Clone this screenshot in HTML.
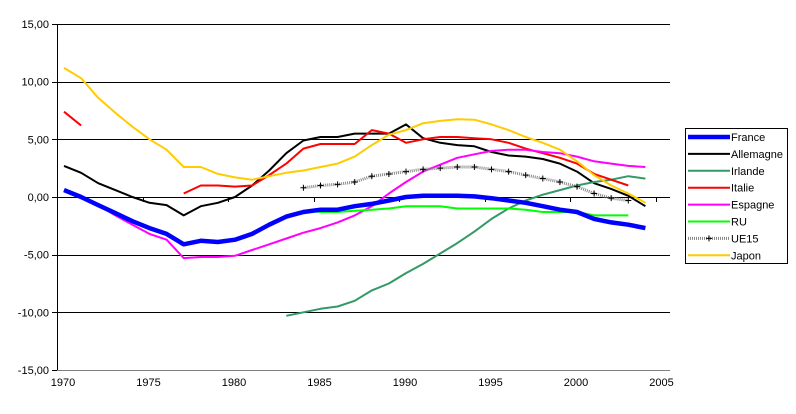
<!DOCTYPE html>
<html><head><meta charset="utf-8"><style>
body{margin:0;background:#fff;font-family:"Liberation Sans",Arial,sans-serif;}
svg text{font-family:"Liberation Sans",Arial,sans-serif;font-size:11px;fill:#000;}
</style></head><body>
<svg id="chart" width="796" height="409"></svg>
<script>
const years = [];
for (let y = 1970; y <= 2004; y++) years.push(y);
const yTicks = [15, 10, 5, 0, -5, -10, -15];
const yTickLabels = ["15,00", "10,00", "5,00", "0,00", "-5,00", "-10,00", "-15,00"];
const xTickYears = [1970, 1975, 1980, 1985, 1990, 1995, 2000, 2005];
const N = null;
const france = [0.6,0.0,-0.7,-1.4,-2.1,-2.7,-3.2,-4.1,-3.8,-3.9,-3.7,-3.2,-2.4,-1.7,-1.3,-1.1,-1.1,-0.8,-0.6,-0.3,0.0,0.1,0.1,0.1,0.05,-0.1,-0.3,-0.5,-0.8,-1.1,-1.3,-1.9,-2.2,-2.4,-2.7];
const allemagne = [2.7,2.1,1.2,0.6,0.0,-0.5,-0.7,-1.6,-0.8,-0.5,0.0,1.0,2.3,3.8,4.9,5.2,5.2,5.5,5.5,5.5,6.3,5.1,4.7,4.5,4.4,3.9,3.6,3.5,3.3,2.9,2.2,1.2,0.7,0.1,-0.8];
const irlande = [N,N,N,N,N,N,N,N,N,N,N,N,N,-10.3,-10.0,-9.7,-9.5,-9.0,-8.1,-7.5,-6.6,-5.8,-4.9,-4.0,-3.0,-1.9,-1.0,-0.3,0.2,0.6,1.0,1.3,1.5,1.8,1.6];
const italie = [7.4,6.2,N,N,N,N,N,0.3,1.0,1.0,0.9,1.0,1.9,2.9,4.2,4.6,4.6,4.6,5.8,5.5,4.7,5.0,5.2,5.2,5.1,5.0,4.7,4.2,3.8,3.4,2.9,2.0,1.5,1.0,N];
const espagne = [0.6,0.0,-0.7,-1.6,-2.4,-3.2,-3.7,-5.3,-5.2,-5.2,-5.1,-4.6,-4.1,-3.6,-3.1,-2.7,-2.2,-1.6,-0.8,0.3,1.3,2.2,2.8,3.4,3.7,4.0,4.1,4.1,3.9,3.8,3.5,3.1,2.9,2.7,2.6];
const ru = [N,N,N,N,N,N,N,N,N,N,N,N,N,N,-1.2,-1.3,-1.3,-1.2,-1.1,-1.0,-0.8,-0.8,-0.8,-1.0,-1.0,-1.0,-1.0,-1.1,-1.3,-1.3,-1.3,-1.6,-1.6,-1.6,N];
const ue15 = [N,N,N,N,N,N,N,N,N,N,N,N,N,N,0.8,1.0,1.1,1.3,1.8,2.0,2.2,2.4,2.5,2.6,2.6,2.4,2.2,1.9,1.6,1.3,0.9,0.3,-0.1,-0.3,N];
const japon = [11.2,10.3,8.6,7.3,6.1,5.0,4.1,2.6,2.6,2.0,1.7,1.5,1.8,2.1,2.3,2.6,2.9,3.5,4.5,5.4,5.8,6.4,6.6,6.75,6.7,6.3,5.8,5.2,4.7,4.1,3.1,1.9,1.0,0.3,-0.5];

const svg = document.getElementById('chart');
const NS = 'http://www.w3.org/2000/svg';
const X = yr => 64 + (yr - 1970) * 17.1;
const Y = v => 197 - v * 11.53;
function mk(tag, attrs, parent){const e=document.createElementNS(NS,tag);for(const k in attrs)e.setAttribute(k,attrs[k]);(parent||svg).appendChild(e);return e;}

yTicks.forEach((t,i)=>{
  const yy = Math.round(Y(t)) + 0.5;
  const g = mk('line',{x1:57,x2:670,y1:yy,y2:yy,stroke:(t===-15?'#808080':'#000'),'stroke-width':1});
  
  
  const tk = mk('line',{x1:52,x2:57,y1:yy,y2:yy,stroke:'#000'});
  
  
  const tx = mk('text',{x:49,y:Y(t)+4,'text-anchor':'end'});
  tx.textContent = yTickLabels[i];
  
  
});
const ya = mk('line',{x1:57.5,x2:57.5,y1:Y(15),y2:Y(-15),stroke:'#000','stroke-width':1});


xTickYears.forEach(yr=>{
  const xx = Math.round(X(yr)-7)+0.5;
  const tk = mk('line',{x1:xx,x2:xx,y1:197,y2:202,stroke:'#000'});
  
  
  const tx = mk('text',{x:X(yr)-1,y:386,'text-anchor':'middle'});
  tx.textContent = yr;
  
  
});

const series = [
  {name:'Allemagne',data:allemagne,color:'#000',w:2},
  {name:'Irlande',data:irlande,color:'#339966',w:2},
  {name:'Italie',data:italie,color:'#ff0000',w:2},
  {name:'Espagne',data:espagne,color:'#ff00ff',w:2},
  {name:'RU',data:ru,color:'#00ff00',w:2},
  {name:'UE15',data:ue15,color:'#000',w:3,dot:true},
  {name:'Japon',data:japon,color:'#ffcc00',w:2},
  {name:'France',data:france,color:'#0000ff',w:4.5},
];
function pathFor(data){
  let d='',pen=false;
  data.forEach((v,i)=>{ if(v===null){pen=false;return;} d+=(pen?'L':'M')+X(years[i]).toFixed(1)+','+Y(v).toFixed(1); pen=true; });
  return d;
}
series.forEach(s=>{
  const p = mk('path',{d:pathFor(s.data),fill:'none',stroke:s.color,'stroke-width':s.w,'stroke-linejoin':'round'});
  if(s.dot){p.setAttribute('stroke','#888');p.setAttribute('stroke-dasharray','1,1');}
  
  
  if(s.dot){
    s.data.forEach((v,i)=>{ if(v===null) return;
      const m = mk('path',{d:`M${X(years[i])-3},${Y(v)}h6M${X(years[i])},${Y(v)-3}v6`,stroke:'#000','stroke-width':1});
      
      
    });
  }
});

const lg = mk('g',{});


mk('rect',{x:685.5,y:128.5,width:102,height:135,fill:'#fff',stroke:'#000'},lg);
const legendOrder = ['France','Allemagne','Irlande','Italie','Espagne','RU','UE15','Japon'];
legendOrder.forEach((n,i)=>{
  const s = series.find(q=>q.name===n);
  const y = 137 + i*16.9;
  const e = mk('g',{},lg);
  
  
  const l = mk('line',{x1:688,x2:730,y1:y,y2:y,stroke:s.dot?'#888':s.color,'stroke-width':s.w},e);
  if(s.dot){l.setAttribute('stroke-dasharray','1,1');mk('path',{d:`M706,${y}h6M709,${y-3}v6`,stroke:'#000'},e);}
  const t = mk('text',{x:731,y:y+4},e);
  t.textContent = n;
});
</script>
</body></html>
